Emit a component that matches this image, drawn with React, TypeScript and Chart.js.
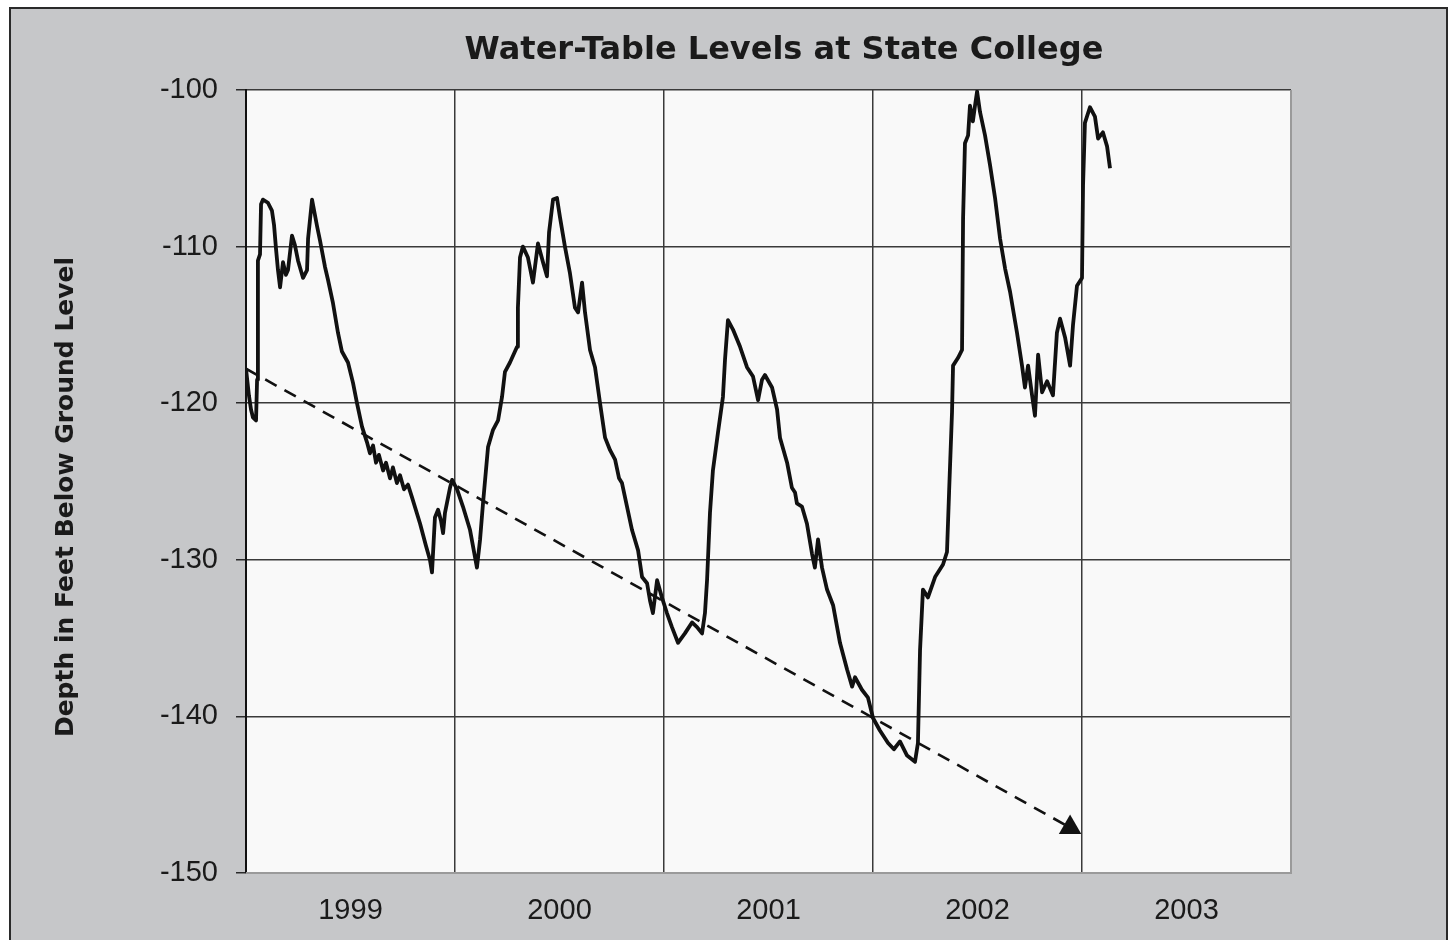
import React, { useEffect, useRef } from "react";
import { Chart, registerables } from "chart.js";

Chart.register(...registerables);

const TITLE = "Water-Table Levels at State College";
const Y_TITLE = "Depth in Feet Below Ground Level";
const YEAR_LABELS = ["1999", "2000", "2001", "2002", "2003"];

// decimal year of each reading
const years = [
  1999.0, 1999.014, 1999.024, 1999.033, 1999.048, 1999.053, 1999.057, 1999.067, 1999.072, 1999.081,
  1999.105, 1999.124, 1999.134, 1999.144, 1999.153, 1999.163, 1999.177, 1999.191, 1999.201, 1999.22,
  1999.234, 1999.249, 1999.273, 1999.292, 1999.297, 1999.316, 1999.34, 1999.354, 1999.378, 1999.392,
  1999.416, 1999.44, 1999.459, 1999.488, 1999.512, 1999.531, 1999.555, 1999.579, 1999.593, 1999.608,
  1999.622, 1999.636, 1999.656, 1999.67, 1999.689, 1999.703, 1999.722, 1999.737, 1999.756, 1999.775,
  1999.794, 1999.833, 1999.861, 1999.88, 1999.89, 1999.904, 1999.919, 1999.933, 1999.943, 1999.952,
  1999.976, 1999.986, 2000.01, 2000.038, 2000.072, 2000.105, 2000.12, 2000.134, 2000.158, 2000.182,
  2000.206, 2000.225, 2000.239, 2000.263, 2000.297, 2000.301, 2000.311, 2000.325, 2000.349, 2000.373,
  2000.397, 2000.421, 2000.44, 2000.45, 2000.469, 2000.488, 2000.502, 2000.526, 2000.55, 2000.574,
  2000.589, 2000.608, 2000.622, 2000.646, 2000.67, 2000.694, 2000.718, 2000.742, 2000.766, 2000.785,
  2000.799, 2000.823, 2000.847, 2000.876, 2000.895, 2000.919, 2000.933, 2000.947, 2000.967, 2000.99,
  2001.014, 2001.038, 2001.067, 2001.1, 2001.134, 2001.158, 2001.182, 2001.196, 2001.206, 2001.22,
  2001.234, 2001.258, 2001.282, 2001.292, 2001.306, 2001.33, 2001.364, 2001.397, 2001.426, 2001.45,
  2001.469, 2001.483, 2001.517, 2001.541, 2001.555, 2001.589, 2001.612, 2001.627, 2001.636, 2001.66,
  2001.684, 2001.708, 2001.722, 2001.737, 2001.756, 2001.78, 2001.809, 2001.842, 2001.876, 2001.9,
  2001.914, 2001.947, 2001.976, 2002.0, 2002.033, 2002.072, 2002.1, 2002.129, 2002.163, 2002.201,
  2002.215, 2002.225, 2002.239, 2002.263, 2002.297, 2002.335, 2002.354, 2002.364, 2002.378, 2002.383,
  2002.407, 2002.426, 2002.431, 2002.44, 2002.455, 2002.464, 2002.478, 2002.488, 2002.498, 2002.512,
  2002.536, 2002.56, 2002.584, 2002.608, 2002.632, 2002.656, 2002.689, 2002.713, 2002.727, 2002.742,
  2002.761, 2002.775, 2002.79, 2002.809, 2002.833, 2002.861, 2002.88, 2002.895, 2002.919, 2002.943,
  2002.957, 2002.976, 2003.0, 2003.005, 2003.014, 2003.038, 2003.062, 2003.077, 2003.1, 2003.12,
  2003.134,
];

// depth in feet below ground level
const depths = [
  -117.8, -119.5, -120.4, -120.9, -121.1, -118.5, -110.9, -110.5, -107.3, -107.0,
  -107.2, -107.7, -108.6, -110.2, -111.5, -112.6, -111.0, -111.8, -111.5, -109.3,
  -109.9, -110.9, -112.0, -111.5, -109.5, -107.0, -108.7, -109.6, -111.3, -112.1,
  -113.6, -115.5, -116.7, -117.4, -118.7, -120.0, -121.5, -122.5, -123.2, -122.7,
  -123.8, -123.3, -124.3, -123.8, -124.8, -124.1, -125.1, -124.6, -125.5, -125.2,
  -126.0, -127.7, -129.1, -130.0, -130.8, -127.3, -126.8, -127.5, -128.3, -127.0,
  -125.4, -124.9, -125.5, -126.6, -128.1, -130.5, -128.7, -126.4, -122.8, -121.7,
  -121.1, -119.6, -118.0, -117.4, -116.4, -113.9, -110.7, -110.0, -110.7, -112.3,
  -109.8, -111.0, -111.9, -109.1, -107.0, -106.9, -108.1, -110.0, -111.7, -113.9,
  -114.2, -112.3, -114.2, -116.6, -117.7, -120.0, -122.2, -123.0, -123.6, -124.8,
  -125.1, -126.6, -128.1, -129.4, -131.1, -131.5, -132.6, -133.4, -131.3, -132.4,
  -133.4, -134.3, -135.3, -134.7, -134.0, -134.3, -134.7, -133.4, -131.3, -127.0,
  -124.3, -121.9, -119.6, -117.2, -114.7, -115.3, -116.4, -117.7, -118.3, -119.8,
  -118.5, -118.2, -119.0, -120.4, -122.2, -123.8, -125.4, -125.7, -126.4, -126.6,
  -127.7, -129.6, -130.5, -128.7, -130.5, -131.9, -132.9, -135.3, -137.0, -138.1,
  -137.5, -138.3, -138.8, -140.1, -140.9, -141.7, -142.1, -141.6, -142.5, -142.9,
  -141.7, -135.8, -131.9, -132.4, -131.1, -130.3, -129.5, -125.7, -120.6, -117.6,
  -117.1, -116.6, -108.2, -103.4, -102.9, -101.0, -102.0, -101.0, -100.1, -101.4,
  -102.9, -104.8, -106.9, -109.5, -111.4, -112.9, -115.5, -117.6, -119.0, -117.6,
  -119.5, -120.8, -116.9, -119.3, -118.6, -119.5, -115.5, -114.6, -115.8, -117.6,
  -115.0, -112.5, -112.0, -106.1, -102.1, -101.1, -101.7, -103.1, -102.7, -103.6,
  -105.0,
];

// dashed trend arrow: start and end (arrow head)
const trendYears = [1999.0, 2002.943];
const trendDepths = [-117.8, -147.1];

const PLOT = { left: 246, top: 90, right: 1291, bottom: 873 };
const FONT = '"Liberation Sans", Arial, sans-serif';
const TITLE_FONT = '"DejaVu Sans", Verdana, sans-serif';

export default function App() {
  const ref = useRef<HTMLCanvasElement | null>(null);

  useEffect(() => {
    document.body.style.margin = "0";
    const canvas = ref.current!;
    const bgPlugin = {
      id: "bg",
      beforeDraw(chart: any) {
        const { ctx, chartArea: a } = chart;
        ctx.save();
        ctx.fillStyle = "#ffffff";
        ctx.fillRect(0, 0, chart.width, chart.height);
        ctx.fillStyle = "#c6c7c9";
        ctx.fillRect(10, 8, 1437, 940);
        ctx.strokeStyle = "#2a2a2a";
        ctx.lineWidth = 2;
        ctx.strokeRect(10, 8, 1437, 940);
        ctx.fillStyle = "#f9f9f9";
        ctx.fillRect(a.left, a.top, a.right - a.left, a.bottom - a.top);
        ctx.restore();
      },
      afterDraw(chart: any) {
        const { ctx, chartArea: a } = chart;
        ctx.save();
        ctx.strokeStyle = "#9a9a9a";
        ctx.lineWidth = 2;
        ctx.beginPath();
        ctx.moveTo(a.right, a.top);
        ctx.lineTo(a.right, a.bottom);
        ctx.lineTo(a.left, a.bottom);
        ctx.stroke();
        ctx.fillStyle = "#1a1a1a";
        ctx.font = `bold 32px ${TITLE_FONT}`;
        ctx.textAlign = "center";
        ctx.textBaseline = "alphabetic";
        ctx.fillText(TITLE, 784, 59);
        ctx.translate(66, 497);
        ctx.rotate(-Math.PI / 2);
        ctx.font = `bold 25px ${TITLE_FONT}`;
        ctx.textBaseline = "middle";
        ctx.fillText(Y_TITLE, 0, 0);
        ctx.restore();
      },
    };

    const chart = new Chart(canvas, {
      type: "line",
      data: {
        datasets: [
          {
            data: years.map((x, i) => ({ x, y: depths[i] })),
            borderColor: "#111111",
            borderWidth: 3.8,
            pointRadius: 0,
            tension: 0,
            borderJoinStyle: "round",
          },
          {
            data: trendYears.map((x, i) => ({ x, y: trendDepths[i] })),
            borderColor: "#111111",
            borderWidth: 2.6,
            borderDash: [13, 9],
            pointRadius: [0, 13],
            pointStyle: "triangle",
            pointBackgroundColor: "#111111",
            pointBorderColor: "#111111",
            pointBorderWidth: 0,
          },
        ],
      },
      options: {
        responsive: false,
        animation: false,
        layout: { padding: { left: 0, top: PLOT.top, right: 1450 - PLOT.right, bottom: 0 } },
        plugins: { legend: { display: false }, tooltip: { enabled: false }, title: { display: false } },
        scales: {
          x: {
            type: "linear",
            min: 1999,
            max: 2004,
            afterBuildTicks(scale: any) {
              const t = [];
              for (let v = 1999; v <= 2004.001; v += 0.5) t.push({ value: v });
              scale.ticks = t;
            },
            afterFit(scale: any) {
              scale.height = 940 - PLOT.bottom;
            },
            grid: {
              color: (c: any) =>
                c.tick && Number.isInteger(c.tick.value) && c.tick.value > 1999 && c.tick.value < 2004
                  ? "#3a3a3a"
                  : "rgba(0,0,0,0)",
              lineWidth: 1.5,
              drawTicks: false,
            },
            border: { display: false },
            ticks: {
              autoSkip: false,
              maxRotation: 0,
              padding: 21,
              color: "#1a1a1a",
              font: { family: FONT, size: 29 },
              callback: (v: any) => {
                const n = Number(v);
                return Number.isInteger(n) ? "" : YEAR_LABELS[Math.floor(n) - 1999];
              },
            },
          },
          y: {
            min: -150,
            max: -100,
            afterFit(scale: any) {
              scale.width = PLOT.left;
            },
            grid: {
              color: (c: any) => (c.tick && c.tick.value === -150 ? "rgba(0,0,0,0)" : "#3a3a3a"),
              tickColor: "#2a2a2a",
              lineWidth: 1.5,
              tickLength: 10,
            },
            border: { color: "#111111", width: 2 },
            ticks: {
              stepSize: 10,
              padding: 18,
              color: "#1a1a1a",
              font: { family: FONT, size: 29 },
            },
          },
        },
      },
      plugins: [bgPlugin],
    } as any);
    return () => chart.destroy();
  }, []);

  return (
    <div style={{ width: 1450, height: 940 }}>
      <canvas ref={ref} width={1450} height={940} style={{ display: "block" }} />
    </div>
  );
}
